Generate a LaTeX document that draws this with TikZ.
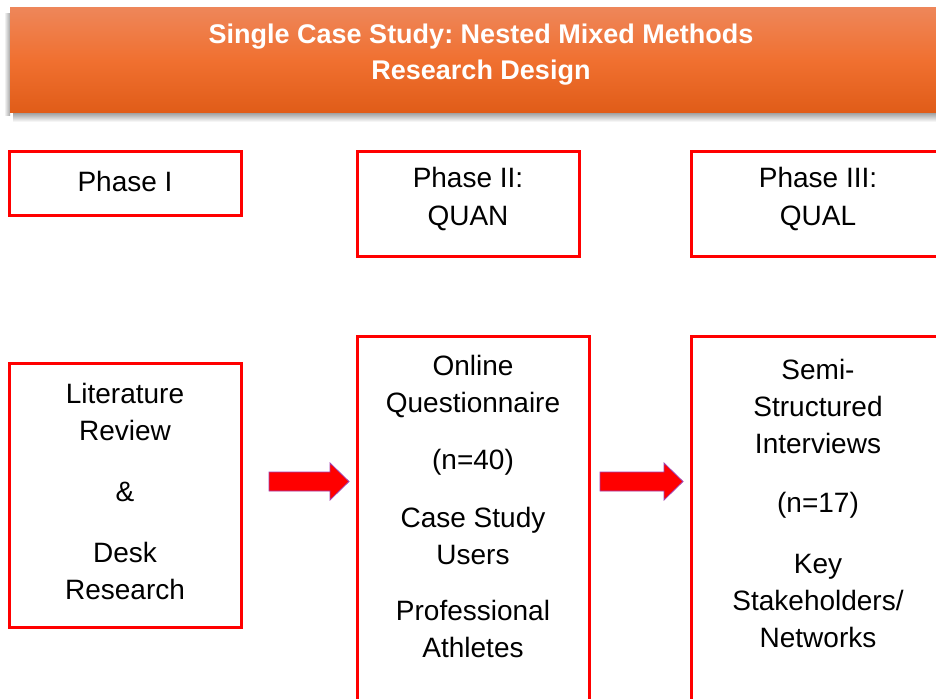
\documentclass[tikz,border=0pt]{standalone}
\usepackage{fontspec}
\setmainfont{Liberation Sans}
\definecolor{boxred}{HTML}{FF0000}
\definecolor{hdrtop}{HTML}{EE8659}
\definecolor{hdrmid}{HTML}{F07030}
\definecolor{hdrbot}{HTML}{E05C18}
\definecolor{arrline}{HTML}{A040B0}
\tikzset{
  phasebox/.style={draw=boxred, line width=3pt, fill=white, inner sep=0pt},
  txt/.style={align=center, font=\fontsize{28}{37}\selectfont, inner sep=0pt, text=black},
  hdrtxt/.style={align=center, font=\frenchspacing\bfseries\fontsize{27}{36}\selectfont, text=white, inner sep=0pt},
  fatarrow/.style={fill=boxred, draw=arrline, line width=0.8pt, line join=miter}
}
\begin{document}
\begin{tikzpicture}[x=1pt,y=-1pt]
\useasboundingbox (0,0) rectangle (936,698);
\fill[white] (0,0) rectangle (936,698);
% header shadow
\shade[top color=black!45, bottom color=white] (13,111) rectangle (940,122);
\shade[left color=white, right color=black!35] (4,14) rectangle (10,116);
% header
\shade[top color=hdrtop, bottom color=hdrbot, middle color=hdrmid] (10,8) rectangle (940,113);
\node[hdrtxt] (hdr) at (481,55) {Single Case Study: Nested Mixed Methods\\Research Design};
% phase boxes
\draw[phasebox] (9,151) rectangle (241,215);
\node (p1) at (125,183) {};
\draw[phasebox] (357,151) rectangle (579,256);
\node (p2) at (468,203) {};
\draw[phasebox] (691,151) rectangle (945,256);
\node (p3) at (818,203) {};
\node[txt] (p1t) at (125,181) {Phase I};
\node[txt] (p2t) at (468,199) {Phase II:\\QUAN};
\node[txt] (p3t) at (818,199) {Phase III:\\QUAL};
% lower boxes
\draw[phasebox] (9,363) rectangle (241,627);
\node (b1) at (125,495) {};
\draw[phasebox] (357,336) rectangle (589,710);
\node (b2) at (473,520) {};
\draw[phasebox] (691,336) rectangle (945,710);
\node (b3) at (818,520) {};
% texts box 1
\node[txt] (b1a) at (125,412) {Literature\\Review};
\node[txt] (b1b) at (125,492) {\&};
\node[txt] (b1c) at (125,571) {Desk\\Research};
% texts box 2
\node[txt] (b2a) at (473,386) {Online\\Questionnaire};
\node[txt] (b2b) at (473,462) {(n=40)};
\node[txt] (b2c) at (473,536) {Case Study\\Users};
\node[txt] (b2d) at (473,629) {Professional\\Athletes};
% texts box 3
\node[txt] (b3a) at (818,406) {Semi-\\Structured\\Interviews};
\node[txt] (b3b) at (818,505) {(n=17)};
\node[txt] (b3c) at (818,601) {Key\\Stakeholders/\\Networks};
% arrows
\draw[fatarrow] (269,472) -- (330,472) -- (330,463) -- (349,481.5) -- (330,500) -- (330,491) -- (269,491) -- cycle;
\node (a1) at (309,481) {};
\draw[fatarrow] (600,472) -- (664,472) -- (664,463) -- (683,481.5) -- (664,500) -- (664,491) -- (600,491) -- cycle;
\node (a2) at (641,481) {};
\end{tikzpicture}
\end{document}
